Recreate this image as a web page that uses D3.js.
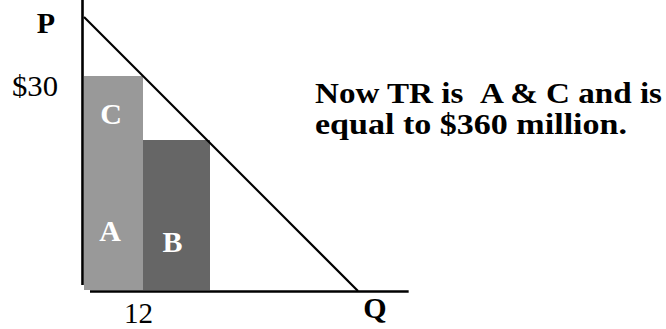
<!DOCTYPE html>
<html>
<head>
<meta charset="utf-8">
<script src="https://cdn.jsdelivr.net/npm/d3@7"></script>
<style>
  html, body { margin: 0; padding: 0; background: #fff; }
  svg { display: block; }
  text { font-family: "Liberation Serif", "Times New Roman", Times, serif; }
</style>
</head>
<body>
<svg id="chart" width="666" height="329"></svg>
<script>
// ---- data ----
const priceIntercept = 38.2;      // P where demand meets the price axis
const quantityIntercept = 55.7;   // Q where demand meets the quantity axis
const demandQ = [0, quantityIntercept];
const demandP = [priceIntercept, 0];

const areaLabels = ["C", "A", "B"];
const areaQ0 = [0, 0, 12];
const areaQ1 = [12, 12, 25.6];
const areaP0 = [21, 0, 0];
const areaP1 = [30, 21, 21];
const areaColors = ["#999999", "#999999", "#666666"];

const priceTickValues = [30];
const priceTickLabels = ["$30"];
const qtyTickValues = [12];
const qtyTickLabels = ["12"];

const noteLines = ["Now TR is\u00a0\u00a0A & C and is", "equal to $360 million."];
const noteWidths = [347, 312];

// ---- scales ----
const x = d3.scaleLinear().domain([0, quantityIntercept]).range([84, 358]);
const y = d3.scaleLinear().domain([0, priceIntercept]).range([291, 17]);

const svg = d3.select("#chart");

// areas
const areas = areaLabels.map((l, i) => ({label: l, q0: areaQ0[i], q1: areaQ1[i], p0: areaP0[i], p1: areaP1[i], color: areaColors[i]}));
svg.selectAll("rect.area").data(areas).enter().append("rect")
  .attr("class", "area")
  .attr("shape-rendering", "crispEdges")
  .attr("x", d => Math.round(x(d.q0)))
  .attr("y", d => Math.round(y(d.p1)))
  .attr("width", d => Math.round(x(d.q1)) - Math.round(x(d.q0)))
  .attr("height", d => Math.round(y(d.p0) - (d.p0 === 0 ? 1.5 : 0)) - Math.round(y(d.p1)))
  .attr("fill", d => d.color);

// area labels
const labelPos = {C: [111, 124], A: [110, 241], B: [172.5, 252]};
svg.selectAll("text.alab").data(areas).enter().append("text")
  .attr("class", "alab")
  .attr("x", d => labelPos[d.label][0])
  .attr("y", d => labelPos[d.label][1])
  .attr("text-anchor", "middle")
  .attr("font-weight", "bold")
  .attr("font-size", 30)
  .attr("fill", "#fff")
  .text(d => d.label);

// axes
svg.append("line")
  .attr("x1", x(0) - 1.5).attr("x2", x(0) - 1.5)
  .attr("y1", y.range()[1] - 17).attr("y2", y(0) - 6)
  .attr("stroke", "#000").attr("stroke-width", 2.6);
svg.append("line")
  .attr("x1", x(0) + 6).attr("x2", x(66))
  .attr("y1", y(0) + 0.5).attr("y2", y(0) + 0.5)
  .attr("stroke", "#000").attr("stroke-width", 2.6);

// demand line
const line = d3.line().x(d => x(d[0])).y(d => y(d[1]));
svg.append("path")
  .datum(demandQ.map((q, i) => [q, demandP[i]]))
  .attr("d", line)
  .attr("fill", "none")
  .attr("stroke", "#000")
  .attr("stroke-width", 2.2);

// tick labels
svg.selectAll("text.ptick").data(priceTickValues).enter().append("text")
  .attr("class", "ptick")
  .attr("x", 58).attr("y", d => y(d) + 20)
  .attr("text-anchor", "end")
  .attr("font-size", 29)
  .attr("textLength", 46).attr("lengthAdjust", "spacingAndGlyphs")
  .text((d, i) => priceTickLabels[i]);
svg.selectAll("text.qtick").data(qtyTickValues).enter().append("text")
  .attr("class", "qtick")
  .attr("x", d => x(d) - 4.5).attr("y", 323)
  .attr("text-anchor", "middle")
  .attr("font-size", 29)
  .text((d, i) => qtyTickLabels[i]);

// axis titles
svg.append("text").attr("x", 46).attr("y", 33).attr("text-anchor", "middle")
  .attr("font-weight", "bold").attr("font-size", 30).text("P");
svg.append("text").attr("x", 375).attr("y", 318).attr("text-anchor", "middle")
  .attr("font-weight", "bold").attr("font-size", 30).text("Q");

// note
svg.selectAll("text.note").data(noteLines).enter().append("text")
  .attr("class", "note")
  .attr("x", 315).attr("y", (d, i) => 103 + i * 31)
  .attr("font-weight", "bold")
  .attr("font-size", 29)
  .attr("textLength", (d, i) => noteWidths[i])
  .attr("lengthAdjust", "spacingAndGlyphs")
  .text(d => d);
</script>
</body>
</html>
